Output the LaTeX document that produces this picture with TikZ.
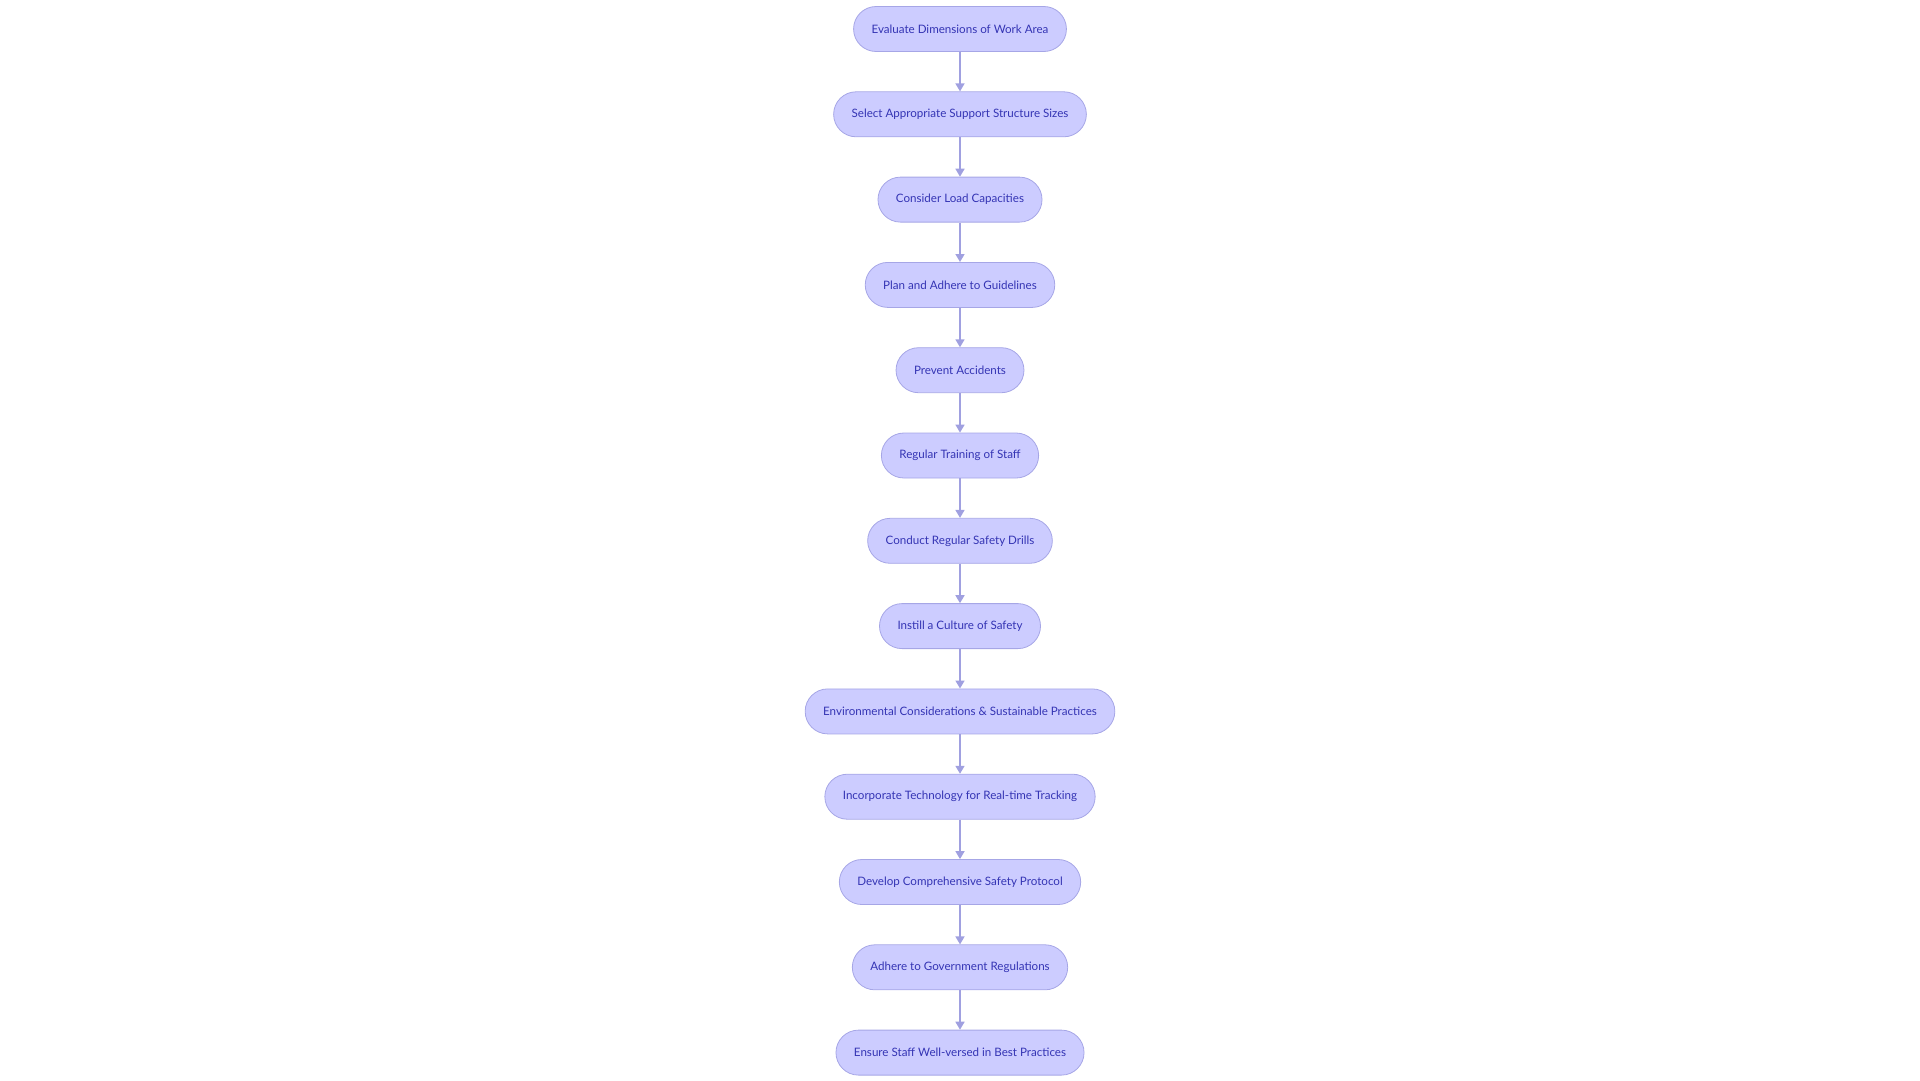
\documentclass[tikz,border=0pt]{standalone}
\usepackage{fontspec}
\setmainfont{Lato}
\usetikzlibrary{positioning}
\usetikzlibrary{arrows.meta}

\definecolor{stepfill}{HTML}{CCCCFF}
\definecolor{stepline}{HTML}{A6A6E6}
\definecolor{steptext}{HTML}{3434B4}
\definecolor{flowline}{HTML}{A0A0E0}

\tikzset{
  stepbox/.style={draw=stepline,fill=stepfill,text=steptext,line width=0.8pt,
    rounded corners=22.5pt,minimum height=45pt,inner xsep=18pt,
    font=\fontsize{11.6}{13}\selectfont},
  flow/.style={draw=flowline,line width=1.6pt,
    -{Triangle[width=9pt,length=8pt]}}
}

\begin{document}
\begin{tikzpicture}[x=1pt,y=1pt,node distance=39.5pt]
                        \useasboundingbox (0,0) rectangle (1920,-1080);
                        % the steps, top to bottom
                        \node[stepbox] (eval) at (960,-29) {Evaluate Dimensions of Work Area};
                        \node[stepbox,below=of eval] (sizes) {Select Appropriate Support Structure Sizes};
                        \node[stepbox,below=of sizes] (load) {Consider Load Capacities};
                        \node[stepbox,below=of load] (plan) {Plan and Adhere to Guidelines};
                        \node[stepbox,below=of plan] (prevent) {Prevent Accidents};
                        \node[stepbox,below=of prevent] (training) {Regular Training of Staff};
                        \node[stepbox,below=of training] (drills) {Conduct Regular Safety Drills};
                        \node[stepbox,below=of drills] (culture) {Instill a Culture of Safety};
                        \node[stepbox,below=of culture] (environ) {Environmental Considerations \& Sustainable Practices};
                        \node[stepbox,below=of environ] (tech) {Incorporate Technology for Real-time Tracking};
                        \node[stepbox,below=of tech] (protocol) {Develop Comprehensive Safety Protocol};
                        \node[stepbox,below=of protocol] (regs) {Adhere to Government Regulations};
                        \node[stepbox,below=of regs] (practice) {Ensure Staff Well-versed in Best Practices};
                        % connectors
                        \draw[flow] (eval) -- (sizes);
                        \draw[flow] (sizes) -- (load);
                        \draw[flow] (load) -- (plan);
                        \draw[flow] (plan) -- (prevent);
                        \draw[flow] (prevent) -- (training);
                        \draw[flow] (training) -- (drills);
                        \draw[flow] (drills) -- (culture);
                        \draw[flow] (culture) -- (environ);
                        \draw[flow] (environ) -- (tech);
                        \draw[flow] (tech) -- (protocol);
                        \draw[flow] (protocol) -- (regs);
                        \draw[flow] (regs) -- (practice);
                    \end{tikzpicture}
\end{document}
